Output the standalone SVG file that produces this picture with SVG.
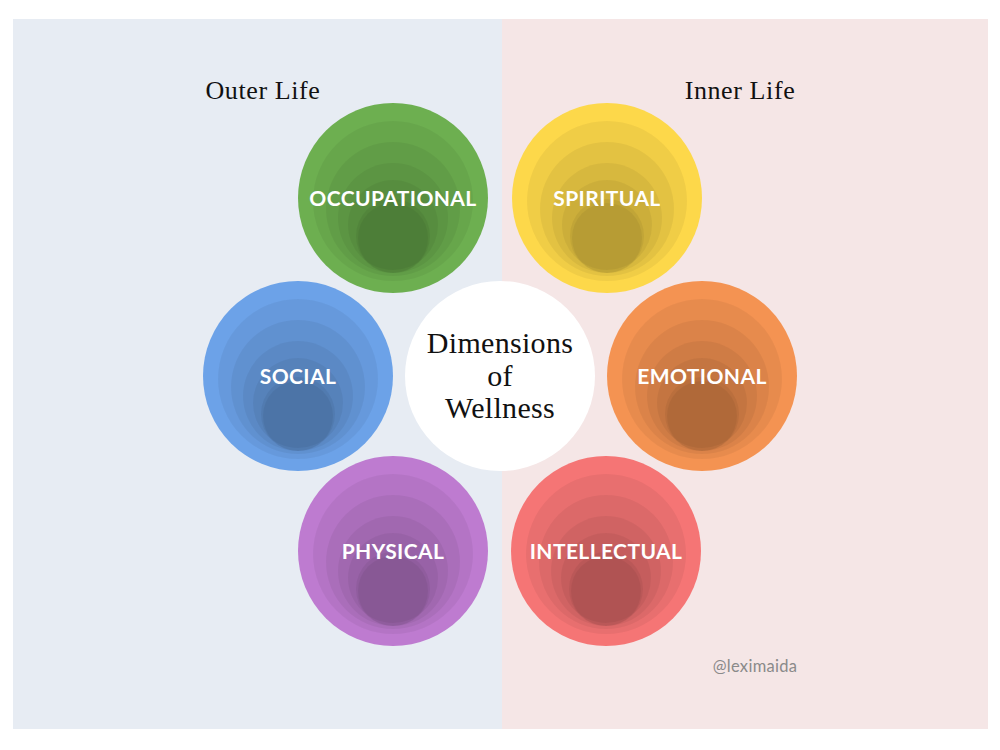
<svg xmlns="http://www.w3.org/2000/svg" width="1000" height="750" viewBox="0 0 1000 750">
<style>
.lbl{font-family:"Lato","Open Sans",sans-serif;font-weight:bold;font-size:21px;fill:#fff;text-anchor:middle;letter-spacing:0.4px}
.ttl{font-family:"Liberation Serif","Times New Roman",serif;font-size:26px;fill:#111;text-anchor:middle;letter-spacing:0.6px}
.ctr{font-family:"Liberation Serif","Times New Roman",serif;font-size:30px;fill:#111;text-anchor:middle;letter-spacing:0.3px}
.sh{fill:#000;fill-opacity:0.05}
</style>
<defs>
<g id="layers">
<circle class="sh" cx="0" cy="3" r="80"/>
<circle class="sh" cx="0" cy="11" r="67"/>
<circle class="sh" cx="0" cy="20" r="55"/>
<circle class="sh" cx="0" cy="27" r="45"/>
<circle class="sh" cx="0" cy="38" r="37"/>
<circle class="sh" cx="0" cy="40" r="35"/>
</g>
</defs>
<rect x="0" y="0" width="1000" height="750" fill="#fff"/>
<rect x="13" y="19" width="489" height="710" fill="#E7ECF3"/>
<rect x="502" y="19" width="486" height="710" fill="#F5E6E6"/>
<text class="ttl" x="263" y="99">Outer Life</text>
<text class="ttl" x="740" y="99">Inner Life</text>
<g id="occupational">
<circle cx="393" cy="198" r="95" fill="#6DAF50"/>
<use href="#layers" x="393" y="198"/>
<text class="lbl" x="393" y="206">OCCUPATIONAL</text>
</g>
<g id="spiritual">
<circle cx="607" cy="198" r="95" fill="#FDD84A"/>
<use href="#layers" x="607" y="198"/>
<text class="lbl" x="607" y="206">SPIRITUAL</text>
</g>
<g id="social">
<circle cx="298" cy="376" r="95" fill="#6CA2E8"/>
<use href="#layers" x="298" y="376"/>
<text class="lbl" x="298" y="384">SOCIAL</text>
</g>
<g id="emotional">
<circle cx="702" cy="376" r="95" fill="#F49352"/>
<use href="#layers" x="702" y="376"/>
<text class="lbl" x="702" y="384">EMOTIONAL</text>
</g>
<g id="physical">
<circle cx="393" cy="551" r="95" fill="#BE7BD0"/>
<use href="#layers" x="393" y="551"/>
<text class="lbl" x="393" y="559">PHYSICAL</text>
</g>
<g id="intellectual">
<circle cx="606" cy="551" r="95" fill="#F57575"/>
<use href="#layers" x="606" y="551"/>
<text class="lbl" x="606" y="559">INTELLECTUAL</text>
</g>
<g id="center">
<circle cx="500" cy="376" r="95" fill="#fff"/>
<text class="ctr" x="500" y="353">Dimensions</text>
<text class="ctr" x="500" y="386">of</text>
<text class="ctr" x="500" y="418">Wellness</text>
</g>
<text x="755" y="672" font-family="Lato, 'Open Sans', sans-serif" font-size="16.5" fill="#8a8a8a" text-anchor="middle" letter-spacing="0.3">@leximaida</text>
<g id="connectors"/>
</svg>
